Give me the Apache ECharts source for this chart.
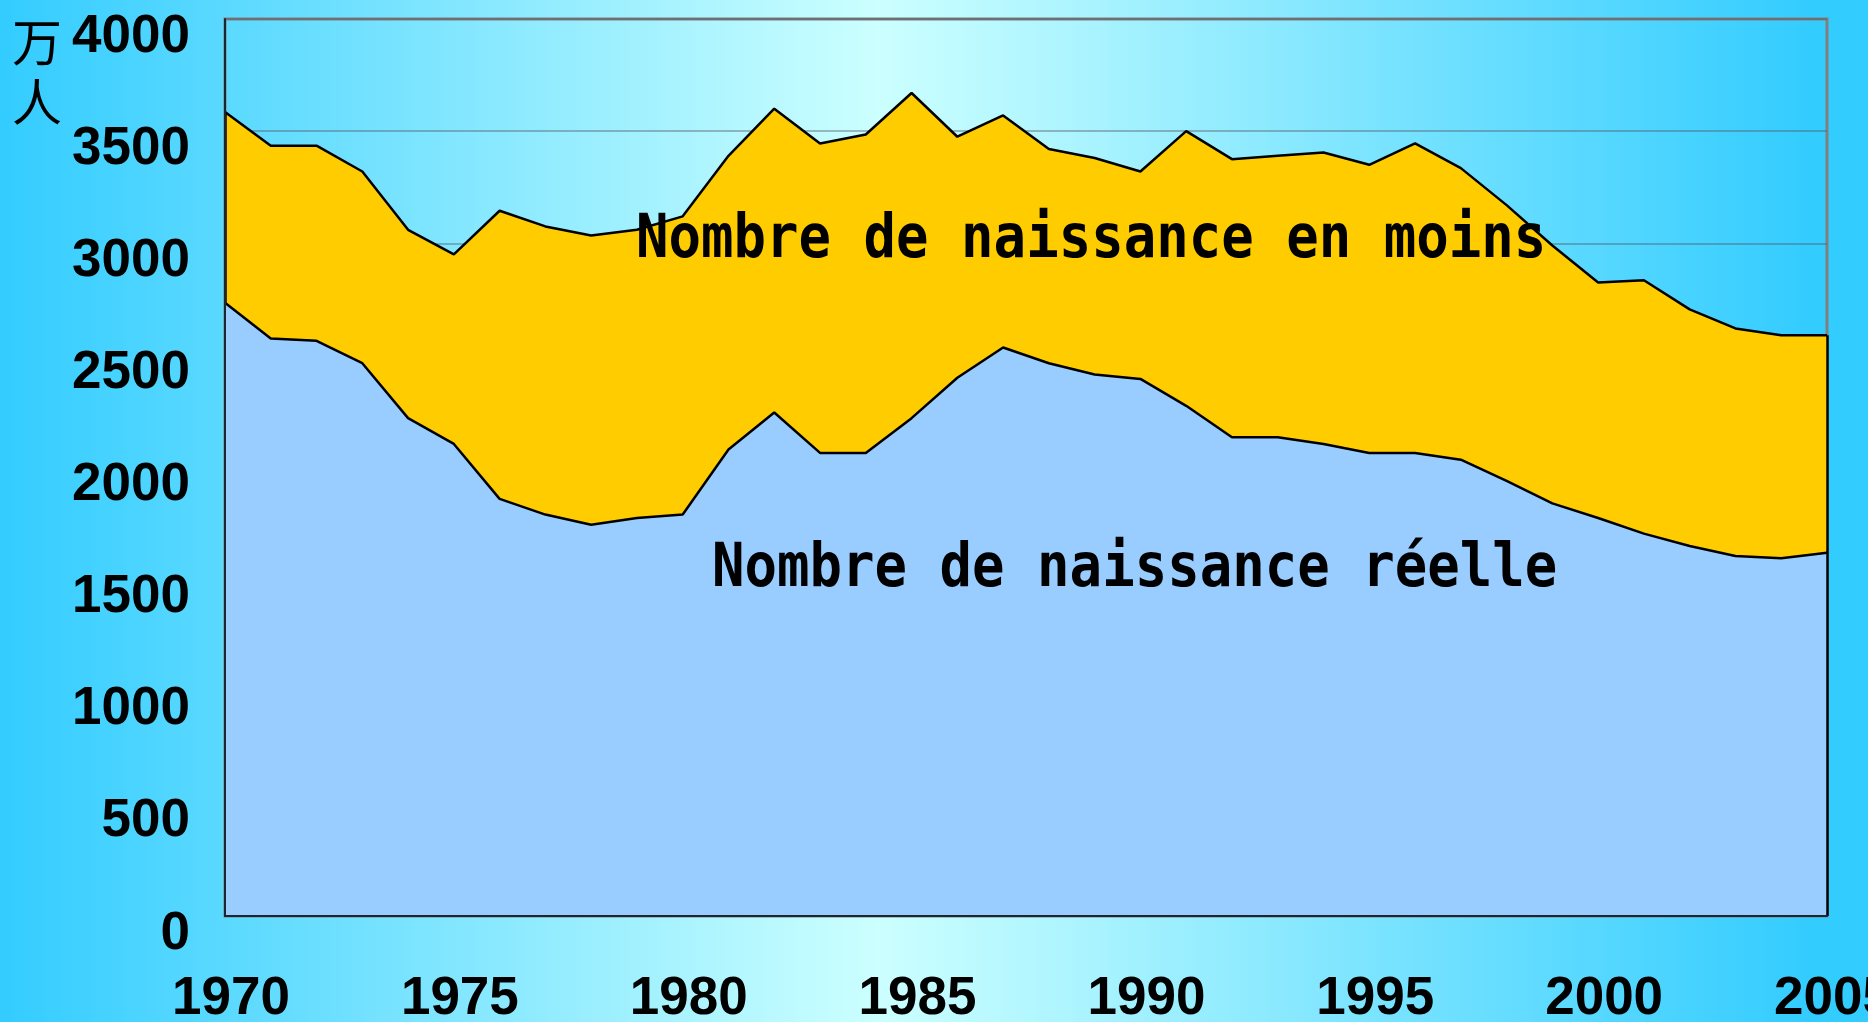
<!DOCTYPE html>
<html>
<head>
<meta charset="utf-8">
<title>Naissances</title>
<script src="https://cdn.jsdelivr.net/npm/echarts@6/dist/echarts.min.js"></script>
<style>
  html, body { margin: 0; padding: 0; }
  #main { width: 1868px; height: 1022px; }
</style>
</head>
<body>
<div id="main"></div>
<script>
var myChart = echarts.init(document.getElementById('main'));

// années 1970 - 2005
var annees = ['1970','1971','1972','1973','1974','1975','1976','1977','1978','1979',
              '1980','1981','1982','1983','1984','1985','1986','1987','1988','1989',
              '1990','1991','1992','1993','1994','1995','1996','1997','1998','1999',
              '2000','2001','2002','2003','2004','2005'];

// naissances réelles (万人)
var naissanceReelle = [2735, 2575, 2565, 2465, 2220, 2105, 1860, 1790, 1745, 1775,
                       1790, 2080, 2245, 2065, 2065, 2220, 2400, 2535, 2465, 2415,
                       2395, 2275, 2135, 2135, 2105, 2065, 2065, 2035, 1940, 1840,
                       1775, 1705, 1650, 1605, 1595, 1620];

// naissances en moins (empilées au-dessus)
var naissanceMoins = [850, 860, 870, 855, 840, 845, 1285, 1285, 1290, 1285,
                      1330, 1310, 1355, 1380, 1420, 1450, 1075, 1035, 955, 965,
                      925, 1225, 1240, 1255, 1300, 1285, 1380, 1300, 1230, 1150,
                      1050, 1130, 1055, 1015, 995, 970];

var yTicks = { min: 0, max: 4000, interval: 500 };

var labelFont = {
    fontFamily: '"Liberation Sans", Arial, sans-serif',
    fontWeight: 'bold',
    fontSize: 53,
    color: '#000'
};

var n = annees.length - 1;
var totalDebut = naissanceReelle[0] + naissanceMoins[0];
var totalFin = naissanceReelle[n] + naissanceMoins[n];

myChart.setOption({
    animation: false,
    backgroundColor: new echarts.graphic.LinearGradient(0, 0, 1, 0, [
        { offset: 0, color: '#33CCFF' },
        { offset: 0.47, color: '#CCFFFF' },
        { offset: 0.97, color: '#33CCFF' },
        { offset: 1, color: '#33CCFF' }
    ]),
    grid: {
        left: 225,
        right: 41,
        top: 19,
        bottom: 106,
        containLabel: false,
        outerBoundsMode: 'none',
        show: true,
        borderColor: '#808080',
        borderWidth: 3,
        backgroundColor: 'transparent'
    },
    xAxis: {
        type: 'category',
        data: annees,
        boundaryGap: false,
        z: 5,
        axisLine: { lineStyle: { color: '#1c2630', width: 2 } },
        axisTick: { show: false },
        splitLine: { show: false },
        axisLabel: Object.assign({ interval: 4, margin: 57, padding: [0, 0, 0, 12] }, labelFont)
    },
    yAxis: [
        {
            type: 'value',
            min: yTicks.min, max: yTicks.max, interval: yTicks.interval,
            z: 5,
            axisLine: { show: true, lineStyle: { color: '#1c2630', width: 2 } },
            axisTick: { show: false },
            splitLine: { show: false },
            axisLabel: Object.assign({
                margin: 35,
                verticalAlign: 'top',
                lineHeight: 36,
                formatter: function (v) { return String(v); }
            }, labelFont)
        },
        {
            // seulement les lignes de grille, sous les aires
            type: 'value',
            min: yTicks.min, max: yTicks.max, interval: yTicks.interval,
            position: 'left',
            z: 0,
            axisLine: { show: false },
            axisTick: { show: false },
            axisLabel: { show: false },
            splitLine: { lineStyle: { color: 'rgba(80,90,100,0.55)', width: 1.5 } }
        }
    ],
    graphic: [
        {
            type: 'text',
            x: 37, y: 12,
            style: {
                text: '万\n人',
                font: '50px "Noto Sans CJK SC"',
                lineHeight: 60,
                textAlign: 'center',
                textVerticalAlign: 'top',
                fill: '#000'
            }
        },
        {
            type: 'text',
            x: 636, y: 241,
            scaleY: 1.12,
            z: 10,
            style: {
                text: 'Nombre de naissance en moins',
                font: 'bold 54px "DejaVu Sans Mono", monospace',
                textAlign: 'left',
                textVerticalAlign: 'middle',
                fill: '#000'
            }
        },
        {
            type: 'text',
            x: 712, y: 570,
            scaleY: 1.12,
            z: 10,
            style: {
                text: 'Nombre de naissance réelle',
                font: 'bold 54px "DejaVu Sans Mono", monospace',
                textAlign: 'left',
                textVerticalAlign: 'middle',
                fill: '#000'
            }
        }
    ],
    series: [
        {
            name: 'Nombre de naissance réelle',
            type: 'line',
            stack: 'total',
            data: naissanceReelle,
            symbol: 'none',
            lineStyle: { color: '#000', width: 2.5 },
            areaStyle: { color: '#99CCFF', opacity: 1 }
        },
        {
            name: 'Nombre de naissance en moins',
            type: 'line',
            stack: 'total',
            data: naissanceMoins,
            symbol: 'none',
            lineStyle: { color: '#000', width: 2.5 },
            areaStyle: { color: '#FFCC00', opacity: 1 },
            markLine: {
                silent: true,
                symbol: 'none',
                label: { show: false },
                lineStyle: { color: '#000', width: 2.5, type: 'solid' },
                data: [
                    [{ coord: [annees[0], naissanceReelle[0]] }, { coord: [annees[0], totalDebut] }],
                    [{ coord: [annees[n], 0] }, { coord: [annees[n], totalFin] }]
                ]
            }
        }
    ]
});
</script>
</body>
</html>
